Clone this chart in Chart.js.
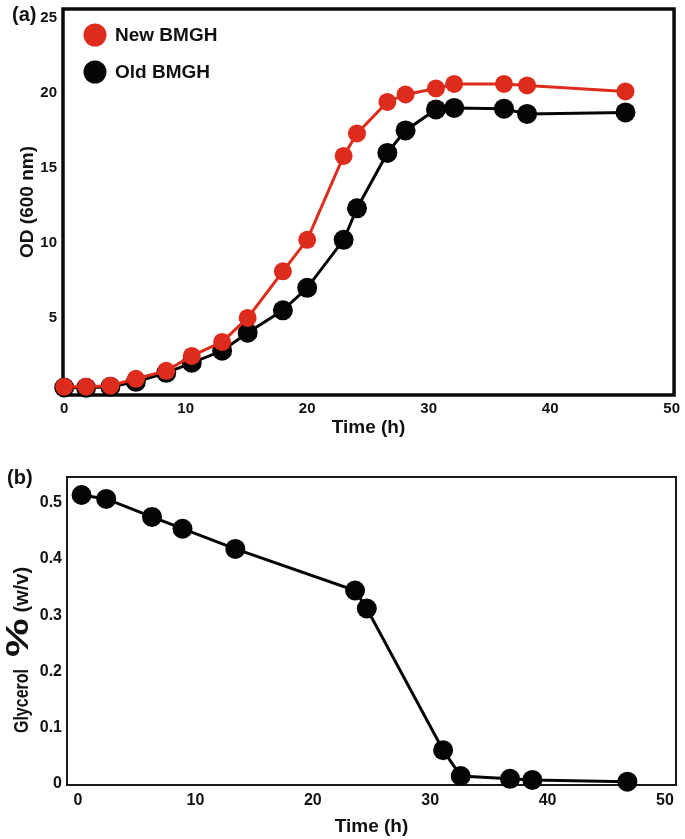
<!DOCTYPE html>
<html>
<head>
<meta charset="utf-8">
<script src="https://cdn.jsdelivr.net/npm/chart.js@4.4.1/dist/chart.umd.min.js"></script>
<style>
  html, body { margin: 0; padding: 0; background: #fff; }
  #wrap { position: relative; width: 685px; height: 839px; }
  canvas { position: absolute; left: 0; }
  #odChart { top: 0; }
  #glyChart { top: 440px; }
</style>
</head>
<body>
<div id="wrap">
  <canvas id="odChart" width="685" height="440"></canvas>
  <canvas id="glyChart" width="685" height="399"></canvas>
</div>
<script>
// ------------------------------------------------------------
// (a) growth curves, OD 600 nm
// ------------------------------------------------------------
const TIME_A = [0, 1.8, 3.8, 5.9, 8.4, 10.5, 13.0, 15.1, 18.0, 20.0, 23.0, 24.1, 26.6, 28.1, 30.6, 32.1, 36.2, 38.1, 46.2];
const OD_NEW = [0.4, 0.4, 0.47, 0.93, 1.46, 2.46, 3.39, 4.99, 8.1, 10.2, 15.8, 17.3, 19.4, 19.9, 20.3, 20.6, 20.6, 20.5, 20.1];
const OD_OLD = [0.35, 0.33, 0.4, 0.73, 1.33, 2.0, 2.8, 4.0, 5.5, 7.0, 10.2, 12.3, 16.0, 17.5, 18.9, 19.0, 18.95, 18.6, 18.7];
const SERIES_A = ['New BMGH', 'Old BMGH'];
const TICKS_A_X = [0, 10, 20, 30, 40, 50];
const TICKS_A_Y = [5, 10, 15, 20, 25];

// ------------------------------------------------------------
// (b) glycerol consumption
// ------------------------------------------------------------
const TIME_B = [0.3, 2.4, 6.3, 8.9, 13.4, 23.6, 24.6, 31.1, 32.6, 36.8, 38.7, 46.8];
const GLYCEROL = [0.514, 0.507, 0.475, 0.454, 0.418, 0.344, 0.312, 0.060, 0.014, 0.009, 0.007, 0.004];
const TICKS_B_X = [0, 10, 20, 30, 40, 50];
const TICKS_B_Y = [0, 0.1, 0.2, 0.3, 0.4, 0.5];

const RED = '#dd2c1c';
const BLACK = '#050505';
const FONT = "'Liberation Sans', Arial, sans-serif";

Chart.defaults.font.family = FONT;
Chart.defaults.font.weight = 'bold';
Chart.defaults.color = '#111';
Chart.defaults.animation = false;

const toXY = (xs, ys) => xs.map((x, i) => ({ x, y: ys[i] }));

// box around the plot area, drawn under the points
const framePlugin = {
  id: 'frame',
  beforeDatasetsDraw(chart, args, opts) {
    const { ctx, chartArea: a } = chart;
    ctx.save();
    ctx.strokeStyle = opts.color;
    ctx.lineWidth = opts.width;
    ctx.strokeRect(a.left, a.top, a.right - a.left, a.bottom - a.top);
    ctx.restore();
  }
};

// "(a)" / "(b)"
const panelLabel = {
  id: 'panelLabel',
  afterDraw(chart, args, opts) {
    const { ctx } = chart;
    ctx.save();
    ctx.font = `bold 20px ${FONT}`;
    ctx.fillStyle = '#111';
    ctx.textBaseline = 'middle';
    ctx.fillText(opts.text, opts.x, opts.y);
    ctx.restore();
  }
};

// big dot legend in the upper left of panel (a)
const dotLegend = {
  id: 'dotLegend',
  afterDraw(chart, args, opts) {
    if (!opts.show) return;
    const { ctx, chartArea: a } = chart;
    ctx.save();
    ctx.font = `bold 19px ${FONT}`;
    ctx.textBaseline = 'middle';
    chart.data.datasets.forEach((ds, i) => {
      const cx = a.left + 32, cy = a.top + 26 + i * 37;
      ctx.beginPath();
      ctx.arc(cx, cy, 11.5, 0, Math.PI * 2);
      ctx.fillStyle = ds.backgroundColor;
      ctx.fill();
      ctx.fillStyle = '#111';
      ctx.fillText(ds.label, cx + 20, cy + 1);
    });
    ctx.restore();
  }
};

// y title of panel (b): the % sign is set larger than the words
// parts: [text, font size, horizontal squeeze, gap after]
const mixedTitle = {
  id: 'mixedTitle',
  afterDraw(chart, args, opts) {
    if (!opts.parts) return;
    const { ctx, chartArea: a } = chart;
    ctx.save();
    ctx.fillStyle = '#111';
    ctx.textBaseline = 'alphabetic';
    let total = 0;
    const widths = opts.parts.map(([t, size, sq, gap]) => {
      ctx.font = `bold ${size}px ${FONT}`;
      const w = ctx.measureText(t).width * sq;
      total += w + gap;
      return w;
    });
    ctx.translate(opts.x, (a.top + a.bottom) / 2 + opts.dy);
    ctx.rotate(-Math.PI / 2);
    let pos = -total / 2;
    opts.parts.forEach(([t, size, sq, gap], i) => {
      ctx.save();
      ctx.font = `bold ${size}px ${FONT}`;
      ctx.translate(pos, 0);
      ctx.scale(sq, 1);
      ctx.fillText(t, 0, 0);
      ctx.restore();
      pos += widths[i] + gap;
    });
    ctx.restore();
  }
};

// ------------------------------------------------------------
// chart (a)
// ------------------------------------------------------------
new Chart(document.getElementById('odChart'), {
  type: 'line',
  data: {
    datasets: [
      {
        label: SERIES_A[0],
        data: toXY(TIME_A, OD_NEW),
        borderColor: RED,
        backgroundColor: RED,
        borderWidth: 3,
        pointRadius: 9,
        pointBorderWidth: 0,
        pointBackgroundColor: RED,
        tension: 0,
        clip: false
      },
      {
        label: SERIES_A[1],
        data: toXY(TIME_A, OD_OLD),
        borderColor: BLACK,
        backgroundColor: BLACK,
        borderWidth: 3,
        pointRadius: 10,
        pointBorderWidth: 0,
        pointBackgroundColor: BLACK,
        tension: 0,
        clip: false
      }
    ]
  },
  options: {
    responsive: false,
    layout: { autoPadding: false, padding: { top: 6, right: 8, left: 0, bottom: 0 } },
    plugins: {
      legend: { display: false },
      tooltip: { enabled: false },
      frame: { color: '#0a0a0a', width: 3.5 },
      panelLabel: { text: '(a)', x: 12, y: 15 },
      dotLegend: { show: true },
      mixedTitle: {}
    },
    scales: {
      x: {
        type: 'linear',
        min: -0.1,
        max: 50.2,
        grid: { display: false, drawTicks: false },
        border: { display: false },
        afterBuildTicks: s => { s.ticks = TICKS_A_X.map(v => ({ value: v })); },
        afterFit: s => { s.height = 45; },
        ticks: { padding: 5, font: { size: 15 }, callback: v => String(v), maxRotation: 0 },
        title: { display: true, text: 'Time (h)', font: { size: 19 }, padding: { top: 0, bottom: 1 } }
      },
      y: {
        type: 'linear',
        min: -0.15,
        max: 25.6,
        grid: { display: false, drawTicks: false },
        border: { display: false },
        afterBuildTicks: s => { s.ticks = TICKS_A_Y.map(v => ({ value: v })); },
        afterFit: s => { s.width = 63; },
        // small lineHeight so the top label does not push the plot area down
        ticks: { padding: 6, font: { size: 15, lineHeight: 0.4 }, callback: v => String(v) },
        title: { display: true, text: 'OD (600 nm)', font: { size: 19 }, padding: { top: 16, bottom: 0 } }
      }
    }
  },
  plugins: [framePlugin, panelLabel, dotLegend, mixedTitle]
});

// ------------------------------------------------------------
// chart (b)
// ------------------------------------------------------------
new Chart(document.getElementById('glyChart'), {
  type: 'line',
  data: {
    datasets: [
      {
        label: 'Glycerol',
        data: toXY(TIME_B, GLYCEROL),
        borderColor: BLACK,
        backgroundColor: BLACK,
        borderWidth: 3,
        pointRadius: 10,
        pointBorderWidth: 0,
        pointBackgroundColor: BLACK,
        tension: 0,
        clip: false
      }
    ]
  },
  options: {
    responsive: false,
    layout: { autoPadding: false, padding: { top: 37, right: 9, left: 0, bottom: 0 } },
    plugins: {
      legend: { display: false },
      tooltip: { enabled: false },
      frame: { color: '#1a1a1a', width: 2 },
      panelLabel: { text: '(b)', x: 7, y: 38 },
      dotLegend: { show: false },
      mixedTitle: {
        parts: [['Glycerol', 20, 0.8, 12], ['%', 31, 1.4, 6], ['(w/v)', 21, 0.95, 0]],
        x: 28, dy: 19
      }
    },
    scales: {
      x: {
        type: 'linear',
        min: -0.94,
        max: 50.94,
        grid: { display: false, drawTicks: false },
        border: { display: false },
        afterBuildTicks: s => { s.ticks = TICKS_B_X.map(v => ({ value: v })); },
        afterFit: s => { s.height = 54; },
        ticks: { padding: 6, font: { size: 16 }, callback: v => String(v), maxRotation: 0 },
        title: { display: true, text: 'Time (h)', font: { size: 19 }, padding: { top: 0, bottom: 1 } }
      },
      y: {
        type: 'linear',
        min: -0.002,
        max: 0.546,
        grid: { display: false, drawTicks: false },
        border: { display: false },
        afterBuildTicks: s => { s.ticks = TICKS_B_Y.map(v => ({ value: v })); },
        afterFit: s => { s.width = 67; },
        ticks: { padding: 5, font: { size: 16 }, callback: v => String(v) },
        title: { display: false }
      }
    }
  },
  plugins: [framePlugin, panelLabel, dotLegend, mixedTitle]
});
</script>
</body>
</html>
